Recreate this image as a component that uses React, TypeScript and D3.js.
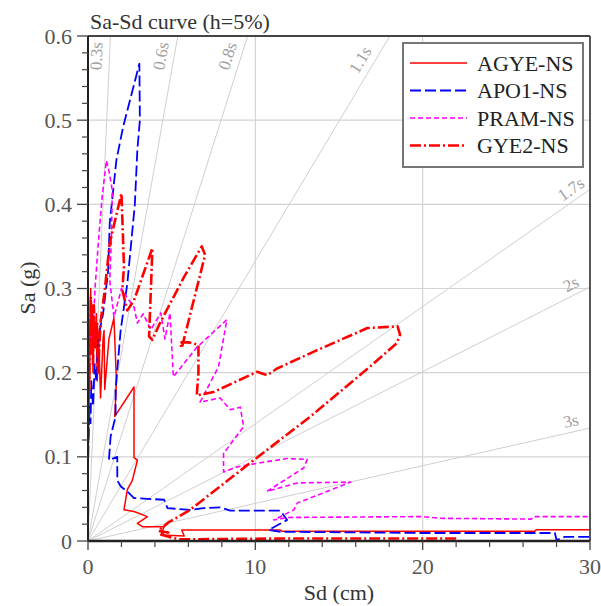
import React from 'react';
import * as d3 from 'd3';

// ---------- data ----------
const sdTicks = [0, 10, 20, 30];
const sdMinor = [2, 4, 6, 8, 12, 14, 16, 18, 22, 24, 26, 28];
const saTicks = [0, 0.1, 0.2, 0.3, 0.4, 0.5, 0.6];
const saTickLabels = ['0', '0.1', '0.2', '0.3', '0.4', '0.5', '0.6'];
const periods = [0.3, 0.6, 0.8, 1.1, 1.7, 2, 3];
const periodLabels = ['0.3s', '0.6s', '0.8s', '1.1s', '1.7s', '2s', '3s'];
const seriesNames = ['AGYE-NS', 'APO1-NS', 'PRAM-NS', 'GYE2-NS'];

// [Sd (cm), Sa (g)]
const agye: [number, number][] = [
  [0.02, 0.11], [0.04, 0.16], [0.06, 0.14], [0.08, 0.22], [0.1, 0.19], [0.13, 0.27],
  [0.16, 0.3], [0.2, 0.24], [0.25, 0.28], [0.3, 0.2], [0.35, 0.26], [0.4, 0.23],
  [0.5, 0.27], [0.55, 0.19], [0.65, 0.24], [0.75, 0.17], [0.9, 0.24], [0.96, 0.25],
  [1.0, 0.18], [1.25, 0.24], [1.55, 0.265], [1.7, 0.19], [1.6, 0.148], [2.75, 0.183],
  [2.75, 0.099], [2.95, 0.096], [2.65, 0.072], [2.35, 0.061], [2.15, 0.037], [2.75, 0.035],
  [3.55, 0.029], [2.95, 0.021], [3.25, 0.017], [4.55, 0.017], [4.35, 0.007], [5.75, 0.006],
  [5.6, 0.013], [11.5, 0.013], [11.6, 0.0115], [26.7, 0.0115], [26.8, 0.0135], [30, 0.0135],
];

const apo1: [number, number][] = [
  [0.03, 0.12], [0.1, 0.16], [0.15, 0.14], [0.2, 0.19], [0.3, 0.16], [0.4, 0.21],
  [0.5, 0.19], [0.6, 0.24], [0.7, 0.25], [0.9, 0.27], [1.2, 0.32], [1.3, 0.378],
  [1.7, 0.453], [2.1, 0.492], [3.07, 0.567], [3.1, 0.5], [2.95, 0.465], [2.8, 0.4],
  [2.35, 0.306], [1.95, 0.25], [1.65, 0.18], [1.65, 0.148], [1.35, 0.124], [1.25, 0.096],
  [1.75, 0.1], [1.75, 0.072], [1.95, 0.065], [2.45, 0.057], [2.75, 0.051], [4.55, 0.049],
  [4.75, 0.039], [6.1, 0.037], [6.9, 0.039], [7.9, 0.04], [8.5, 0.036], [11.5, 0.036],
  [11.9, 0.025], [10.8, 0.013], [11.5, 0.011], [20, 0.0095], [27.9, 0.0095], [28.0, 0.001],
  [28.5, 0.005], [30, 0.005],
];

const pram: [number, number][] = [
  [0.0, 0.16], [0.05, 0.2], [0.08, 0.25], [0.12, 0.22], [0.15, 0.27], [0.2, 0.23],
  [0.25, 0.26], [0.3, 0.22], [0.35, 0.27], [0.42, 0.3], [0.6, 0.35], [0.85, 0.41],
  [1.1, 0.452], [1.25, 0.44], [1.45, 0.417], [1.4, 0.36], [1.3, 0.31], [1.55, 0.266],
  [2.0, 0.3], [2.3, 0.29], [2.75, 0.278], [2.95, 0.259], [3.3, 0.27], [3.75, 0.251],
  [4.35, 0.271], [4.6, 0.24], [4.9, 0.271], [5.1, 0.195], [6.5, 0.23], [8.3, 0.263],
  [7.8, 0.207], [6.7, 0.165], [7.9, 0.17], [8.5, 0.156], [9.1, 0.159], [9.3, 0.136],
  [8.1, 0.104], [8.1, 0.082], [8.9, 0.088], [10.3, 0.093], [11.9, 0.098], [13.1, 0.097],
  [12.9, 0.087], [10.7, 0.059], [12.5, 0.069], [15.7, 0.07], [15.2, 0.066], [12.5, 0.045],
  [12.3, 0.037], [11.1, 0.025], [12, 0.028], [20, 0.029], [21, 0.027], [26.5, 0.026],
  [26.6, 0.029], [30, 0.029],
];

const gye2: [number, number][] = [
  [0.0, 0.1], [0.03, 0.16], [0.05, 0.21], [0.08, 0.18], [0.1, 0.25], [0.13, 0.22],
  [0.17, 0.29], [0.2, 0.25], [0.25, 0.27], [0.3, 0.21], [0.35, 0.28], [0.45, 0.23],
  [0.55, 0.26], [0.6, 0.2], [0.75, 0.26], [1.0, 0.298], [1.3, 0.354], [2.0, 0.413],
  [2.15, 0.326], [2.05, 0.298], [2.35, 0.274], [2.75, 0.286], [3.85, 0.348], [3.65, 0.243],
  [3.85, 0.239], [4.3, 0.259], [5.75, 0.314], [6.8, 0.35], [7.0, 0.34], [5.6, 0.229],
  [5.5, 0.236], [6.0, 0.236], [6.6, 0.233], [6.6, 0.2], [6.5, 0.173], [7.5, 0.177],
  [10.1, 0.201], [10.7, 0.197], [11.3, 0.205], [13.5, 0.225], [16.7, 0.253], [18.5, 0.255],
  [18.65, 0.245], [18.45, 0.235], [16.9, 0.208], [13.3, 0.148], [9.9, 0.096], [6.1, 0.037],
  [4.8, 0.022], [4.5, 0.017], [4.2, 0.012], [4.8, 0.01], [4.3, 0.008], [5.0, 0.004],
  [5.5, 0.002], [12, 0.003], [22, 0.003],
];

const seriesData = [agye, apo1, pram, gye2];
const seriesColors = ['#ff0000', '#0000ff', '#ff00ff', '#ff0000'];
const seriesDash = ['none', '11,4', '5,3', '11,3,2,3'];
const seriesWidth = [1.5, 1.8, 1.6, 2.6];

// ---------- layout ----------
const W = 601;
const H = 606;
const X0 = 88, X1 = 590, Y0 = 541, Y1 = 36;
const FONT = 'Liberation Serif, Times New Roman, Times, DejaVu Serif, serif';
const fs = (size: number) => ({ fontFamily: FONT, fontSize: size + 'px' });

export default function App() {
  const x = d3.scaleLinear().domain([0, 30]).range([X0, X1]);
  const y = d3.scaleLinear().domain([0, 0.6]).range([Y0, Y1]);
  const line = d3.line<[number, number]>().x(d => x(d[0])).y(d => y(d[1]));
  const saMinor = d3.range(0, 0.6001, 0.02).filter(v => Math.abs(v * 10 - Math.round(v * 10)) > 1e-6);

  const pxPerSd = (X1 - X0) / 30;
  const pxPerSa = (Y0 - Y1) / 0.6;

  const periodEls = periods.map((T, i) => {
    const k = (4 * Math.PI * Math.PI) / (T * T * 981); // g per cm
    const hitsTop = k * 30 > 0.6;
    const endSd = hitsTop ? 0.6 / k : 30;
    const endSa = hitsTop ? 0.6 : k * 30;
    const slopePx = k * pxPerSa / pxPerSd;
    const ang = Math.atan(slopePx);
    let cx: number, cy: number;
    if (hitsTop) {
      cy = T > 1 ? 60 : 56;
      const lx = X0 + (Y0 - cy) / slopePx;
      cx = lx - 13 / Math.sin(ang);
    } else {
      cx = 571;
      const ly = Y0 - (cx - X0) * slopePx;
      cy = ly - 11 / Math.cos(ang);
    }
    return (
      <g key={T}>
        <line x1={x(0)} y1={y(0)} x2={x(endSd)} y2={y(endSa)} stroke="#cfcfcf" strokeWidth={1} />
        <text x={cx} y={cy} transform={`rotate(${(-ang * 180) / Math.PI}, ${cx}, ${cy})`}
          textAnchor="middle" dominantBaseline="central" fill="#a0a0a0" style={fs(17)}>
          {periodLabels[i]}
        </text>
      </g>
    );
  });

  return (
    <div style={{ position: 'absolute', left: 0, top: 0 }}>
      <svg width={W} height={H} style={{ display: 'block', background: '#fff' }}>
        <defs>
          <clipPath id="plotClip">
            <rect x={X0} y={Y1} width={X1 - X0} height={Y0 - Y1} />
          </clipPath>
        </defs>
        <rect x={0} y={0} width={W} height={H} fill="#fff" />
        {/* grid */}
        {sdTicks.filter(v => v > 0 && v < 30).map(v => (
          <line key={'gx' + v} x1={x(v)} x2={x(v)} y1={Y1} y2={Y0} stroke="#d4d4d4" strokeWidth={1.2} />
        ))}
        {saTicks.filter(v => v > 0 && v < 0.6).map(v => (
          <line key={'gy' + v} x1={X0} x2={X1} y1={y(v)} y2={y(v)} stroke="#d4d4d4" strokeWidth={1.2} />
        ))}
        {/* period lines */}
        <g clipPath="url(#plotClip)">{periodEls}</g>
        {/* curves */}
        <g clipPath="url(#plotClip)">
          {seriesData.map((data, i) => (
            <path key={seriesNames[i]} d={line(data) || ''} fill="none" stroke={seriesColors[i]}
              strokeWidth={seriesWidth[i]} strokeDasharray={seriesDash[i]} strokeLinejoin="round" />
          ))}
        </g>
        {/* frame */}
        <line x1={X0} x2={X1} y1={Y1} y2={Y1} stroke="#444" strokeWidth={1.8} />
        <line x1={X1} x2={X1} y1={Y1} y2={Y0} stroke="#444" strokeWidth={1.8} />
        <line x1={X0} x2={X0} y1={Y1} y2={Y0} stroke="#222" strokeWidth={2} />
        <line x1={X0} x2={X1} y1={Y0} y2={Y0} stroke="#222" strokeWidth={2.4} />
        {/* y ticks */}
        {saTicks.map((v, i) => (
          <g key={'ty' + v}>
            <line x1={X0 - 11} x2={X0} y1={y(v)} y2={y(v)} stroke="#444" strokeWidth={1.3} />
            <text x={72} y={y(v)} textAnchor="end" dominantBaseline="central"
              fill="#555" style={fs(22)}>{saTickLabels[i]}</text>
          </g>
        ))}
        {saMinor.map(v => (
          <line key={'my' + v} x1={X0 - 6} x2={X0} y1={y(v)} y2={y(v)} stroke="#444" strokeWidth={1.2} />
        ))}
        {/* x ticks */}
        {sdTicks.map(v => (
          <g key={'tx' + v}>
            <line x1={x(v)} x2={x(v)} y1={Y0} y2={Y0 + 9} stroke="#444" strokeWidth={1.3} />
            <text x={x(v)} y={566} textAnchor="middle" dominantBaseline="central"
              fill="#555" style={fs(22)}>{v}</text>
          </g>
        ))}
        {sdMinor.map(v => (
          <line key={'mx' + v} x1={x(v)} x2={x(v)} y1={Y0} y2={Y0 + 6} stroke="#444" strokeWidth={1.2} />
        ))}
        {/* axis titles */}
        <text x={339} y={592} textAnchor="middle" dominantBaseline="central" fill="#333" style={fs(22)}>Sd (cm)</text>
        <text x={27} y={288} transform="rotate(-90, 27, 288)" textAnchor="middle" dominantBaseline="central" fill="#333" style={fs(22)}>Sa (g)</text>
        <text x={90} y={29} fill="#333" style={fs(22)}>Sa-Sd curve (h=5%)</text>
        {/* legend */}
        <rect x={403} y={43} width={180} height={124} fill="#fff" stroke="#777" strokeWidth={2} />
        {seriesNames.map((name, i) => {
          const ly = 63 + i * 27.5;
          return (
            <g key={'lg' + name}>
              <line x1={410} x2={467} y1={ly} y2={ly} stroke={seriesColors[i]} strokeWidth={seriesWidth[i]}
                strokeDasharray={seriesDash[i]} />
              <text x={477} y={ly} dominantBaseline="central" fill="#222" style={fs(22)}>{name}</text>
            </g>
          );
        })}
      </svg>
    </div>
  );
}
